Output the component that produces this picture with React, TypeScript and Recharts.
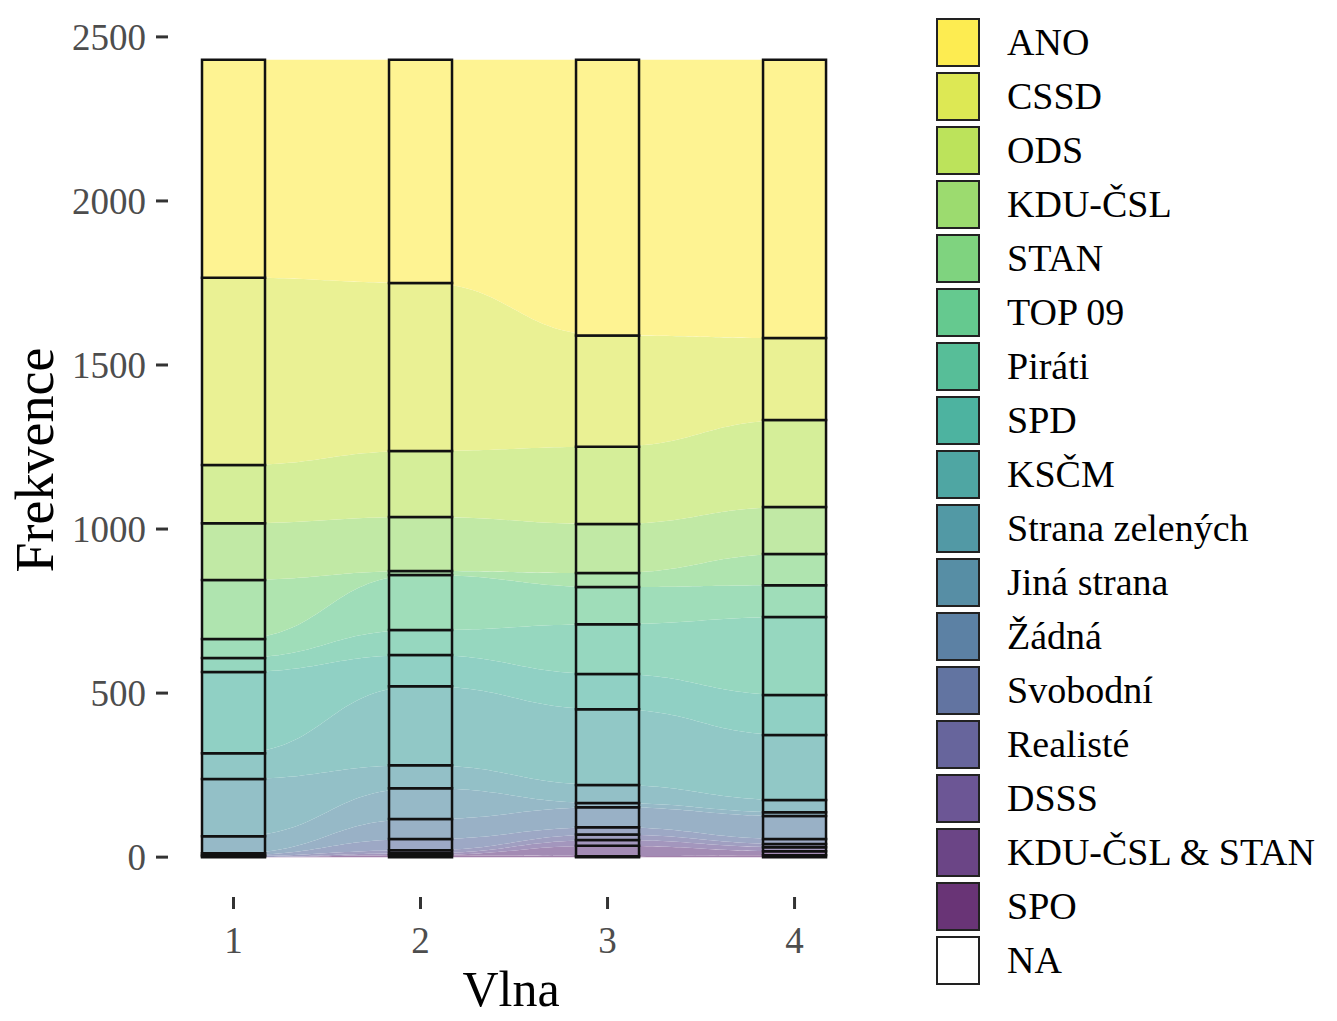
import React from 'react';
import { ComposedChart, Bar, Area, XAxis, YAxis } from 'recharts';

const WAVES = [1, 2, 3, 4];

const PARTIES = [
  'ANO', 'CSSD', 'ODS', 'KDU-ČSL', 'STAN', 'TOP 09', 'Piráti', 'SPD', 'KSČM',
  'Strana zelených', 'Jiná strana', 'Žádná', 'Svobodní', 'Realisté', 'DSSS',
  'KDU-ČSL & STAN', 'SPO', 'NA',
];

// viridis, reversed (yellow first), NA white
const COLORS = [
  '#fde725', '#d4e229', '#abdc32', '#83d24b', '#5fc85f', '#3fbb73', '#2dae7e',
  '#20a088', '#23908c', '#27808e', '#2d728e', '#33628d', '#3b518a', '#413f83',
  '#472c7a', '#461768', '#440154', '#ffffff',
];

// counts per wave (1..4)
const ANO = [664, 680, 840, 848];
const CSSD = [571, 512, 339, 250];
const ODS = [177, 201, 236, 265];
const KDU = [173, 165, 149, 143];
const STAN = [180, 12, 43, 95];
const TOP09 = [58, 168, 113, 97];
const PIRATI = [43, 76, 152, 238];
const SPD = [247, 95, 107, 122];
const KSCM = [79, 241, 231, 198];
const SZ = [174, 70, 55, 37];
const JINA = [52, 94, 13, 12];
const ZADNA = [6, 61, 61, 70];
const SVOBODNI = [3, 34, 22, 15];
const REALISTE = [3, 9, 17, 10];
const DSSS = [0, 6, 17, 12];
const KDU_STAN = [0, 0, 32, 12];
const SPO = [0, 6, 3, 6];
const NA = [0, 0, 0, 0];

const SERIES = [
  ANO, CSSD, ODS, KDU, STAN, TOP09, PIRATI, SPD, KSCM, SZ, JINA, ZADNA,
  SVOBODNI, REALISTE, DSSS, KDU_STAN, SPO, NA,
];

const Y_TICKS = [0, 500, 1000, 1500, 2000, 2500];

const FONT = '"Liberation Serif", "DejaVu Serif", serif';

const tint = (hex: string, a: number) => {
  const n = parseInt(hex.slice(1), 16);
  const mix = (c: number) => Math.round(c * a + 255 * (1 - a));
  const r = mix((n >> 16) & 255);
  const g = mix((n >> 8) & 255);
  const b = mix(n & 255);
  return `rgb(${r},${g},${b})`;
};

const data = WAVES.map((wave, w) => {
  const row: Record<string, number> = { wave };
  SERIES.forEach((vals, i) => {
    row[`p${i}`] = vals[w];
  });
  return row;
});

// bottom of stack first
const order = PARTIES.map((_, i) => i).reverse();

const Legend = () => (
  <div style={{ position: 'absolute', left: 936, top: 15, fontFamily: FONT }}>
    {PARTIES.map((name, i) => (
      <div key={name} style={{ display: 'flex', alignItems: 'center', height: 54 }}>
        <div
          style={{
            width: 44,
            height: 49,
            boxSizing: 'border-box',
            border: '2px solid #222',
            background: i === PARTIES.length - 1 ? '#fff' : tint(COLORS[i], 0.8),
          }}
        />
        <span style={{ marginLeft: 27, fontSize: 38, lineHeight: '49px', color: '#000', whiteSpace: 'nowrap' }}>
          {name}
        </span>
      </div>
    ))}
  </div>
);

export default function App() {
  return (
    <div style={{ position: 'absolute', left: 0, top: 0, width: 1337, height: 1021, background: '#fff', overflow: 'hidden' }}>
      <ComposedChart
        width={900}
        height={1021}
        data={data}
        margin={{ top: 20, right: 40, bottom: 0, left: 0 }}
      >
        <XAxis
          dataKey="wave"
          type="number"
          domain={[0.6497, 4.35]}
          allowDataOverflow
          ticks={WAVES}
          height={124}
          axisLine={false}
          tickSize={12}
          tickMargin={18}
          tickLine={{ stroke: '#333', strokeWidth: 3 }}
          tick={{ fill: '#4d4d4d', fontSize: 37, fontFamily: FONT }}
        />
        <YAxis
          type="number"
          domain={[-121.5, 2551.5]}
          allowDataOverflow
          ticks={Y_TICKS}
          width={168}
          axisLine={false}
          tickSize={12}
          tickMargin={10}
          tickLine={{ stroke: '#333', strokeWidth: 3 }}
          tick={{ fill: '#4d4d4d', fontSize: 37, fontFamily: FONT }}
        />
        {order.map((i) => (
          <Area
            key={`flow${i}`}
            dataKey={`p${i}`}
            stackId="flow"
            type="bumpX"
            stroke="none"
            fill={tint(COLORS[i], 0.5)}
            fillOpacity={1}
            isAnimationActive={false}
            activeDot={false}
            dot={false}
          />
        ))}
        {order.map((i) => (
          <Bar
            key={`stratum${i}`}
            dataKey={`p${i}`}
            stackId="strata"
            barSize={63}
            fill={tint(COLORS[i], 0.5)}
            stroke="#111"
            strokeWidth={2.5}
            isAnimationActive={false}
          />
        ))}
      </ComposedChart>

      <div
        style={{
          position: 'absolute',
          left: 35 - 150,
          top: 460 - 27,
          width: 300,
          height: 54,
          lineHeight: '54px',
          textAlign: 'center',
          fontSize: 54,
          fontFamily: FONT,
          color: '#000',
          transform: 'rotate(-90deg)',
        }}
      >
        Frekvence
      </div>
      <div
        style={{
          position: 'absolute',
          left: 411,
          top: 964,
          width: 200,
          height: 50,
          lineHeight: '50px',
          textAlign: 'center',
          fontSize: 50,
          fontFamily: FONT,
          color: '#000',
        }}
      >
        Vlna
      </div>
      <Legend />
    </div>
  );
}
